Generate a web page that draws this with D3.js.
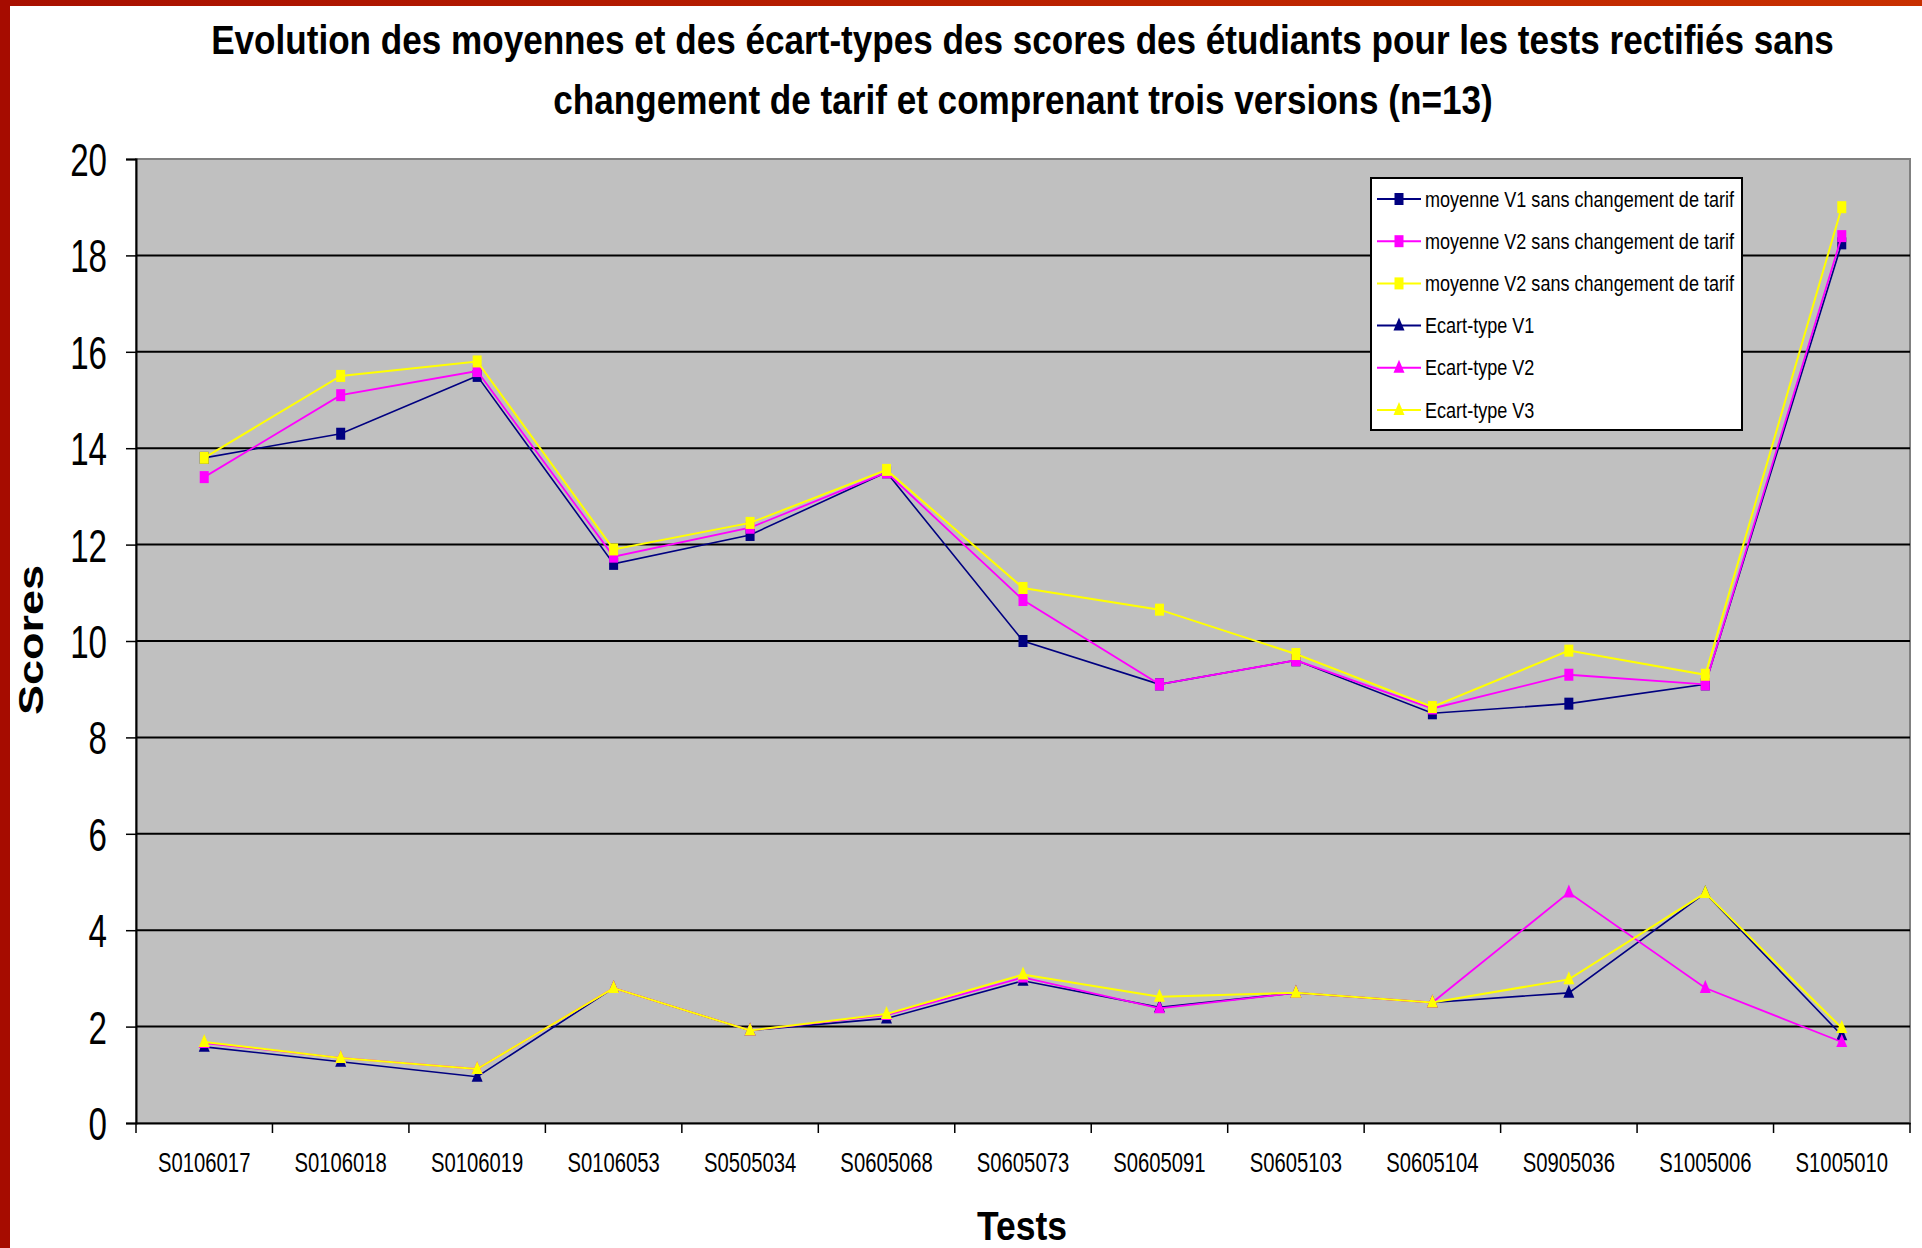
<!DOCTYPE html>
<html><head><meta charset="utf-8">
<script src="https://cdn.jsdelivr.net/npm/d3@7"></script>
<style>html,body{margin:0;padding:0;background:#fff;overflow:hidden}svg{display:block}</style>
</head><body>
<svg id="chart" width="1922" height="1248"></svg>
<script>
const categories = ["S0106017","S0106018","S0106019","S0106053","S0505034","S0605068","S0605073","S0605091","S0605103","S0605104","S0905036","S1005006","S1005010"];
const meanV1 = [13.8, 14.3, 15.5, 11.6, 12.2, 13.5, 10.0, 9.1, 9.6, 8.5, 8.7, 9.1, 18.25];
const meanV2 = [13.4, 15.1, 15.6, 11.75, 12.35, 13.5, 10.85, 9.1, 9.6, 8.6, 9.3, 9.1, 18.4];
const meanV3 = [13.8, 15.5, 15.8, 11.9, 12.45, 13.55, 11.1, 10.65, 9.73, 8.63, 9.8, 9.3, 19.0];
const sdV1 = [1.58, 1.27, 0.96, 2.8, 1.92, 2.17, 2.95, 2.4, 2.7, 2.5, 2.7, 4.77, 1.82];
const sdV2 = [1.66, 1.35, 1.12, 2.8, 1.92, 2.24, 3.02, 2.38, 2.7, 2.5, 4.78, 2.8, 1.68];
const sdV3 = [1.68, 1.35, 1.12, 2.8, 1.92, 2.26, 3.08, 2.62, 2.7, 2.5, 2.98, 4.77, 1.97];
const seriesNames = ["moyenne V1 sans changement de tarif","moyenne V2 sans changement de tarif","moyenne V2 sans changement de tarif","Ecart-type V1","Ecart-type V2","Ecart-type V3"];
const yTicks = [0,2,4,6,8,10,12,14,16,18,20];
const titleLines = ["Evolution des moyennes et des écart-types des scores des étudiants pour les tests rectifiés sans","changement de tarif et comprenant trois versions (n=13)"];
const yTitle = "Scores";
const xTitle = "Tests";

const series = [
  {name: seriesNames[0], values: meanV1, color: "#000080", shape: "square", w: 1.6},
  {name: seriesNames[1], values: meanV2, color: "#ff00ff", shape: "square", w: 1.8},
  {name: seriesNames[2], values: meanV3, color: "#ffff00", shape: "square", w: 2},
  {name: seriesNames[3], values: sdV1, color: "#000080", shape: "triangle", w: 1.6},
  {name: seriesNames[4], values: sdV2, color: "#ff00ff", shape: "triangle", w: 1.8},
  {name: seriesNames[5], values: sdV3, color: "#ffff00", shape: "triangle", w: 2}
];

const svg = d3.select("#chart");
const font = "'Liberation Sans', Arial, sans-serif";
const L = 136, R = 1910, T = 159, B = 1123;

// frame decoration
const defs = svg.append("defs");
const g1 = defs.append("linearGradient").attr("id","topband").attr("x1","0").attr("x2","1");
g1.append("stop").attr("offset","0").attr("stop-color","#a81000");
g1.append("stop").attr("offset","1").attr("stop-color","#c83000");
svg.append("rect").attr("x",0).attr("y",0).attr("width",1922).attr("height",6).attr("fill","url(#topband)");
svg.append("rect").attr("x",0).attr("y",0).attr("width",10).attr("height",1248).attr("fill","#a60c00");

const x = d3.scaleBand().domain(categories).range([L, R]).padding(0);
const y = d3.scaleLinear().domain([0, 20]).range([B, T]);
const cx = d => x(d) + x.bandwidth() / 2;

// plot area
svg.append("rect").attr("x", L).attr("y", T).attr("width", R - L).attr("height", B - T)
  .attr("fill", "#c0c0c0").attr("stroke", "#808080").attr("stroke-width", 2);

// gridlines
svg.append("g").selectAll("line").data(yTicks.filter(t => t > 0 && t < 20)).join("line")
  .attr("x1", L).attr("x2", R).attr("y1", d => y(d)).attr("y2", d => y(d))
  .attr("stroke", "#000").attr("stroke-width", 2);

// y axis
const yAxis = svg.append("g").attr("transform", `translate(${L},0)`)
  .call(d3.axisLeft(y).tickValues(yTicks).tickSize(10).tickFormat(d3.format("d")));
yAxis.select(".domain").attr("stroke", "#000").attr("stroke-width", 2);
yAxis.selectAll(".tick line").attr("stroke", "#000").attr("stroke-width", 1.5);
yAxis.selectAll(".tick text").attr("x", 0).attr("dy", "0.36em")
  .attr("transform", "translate(-29,0) scale(0.72,1)")
  .attr("font-family", font).attr("font-size", 46).attr("fill", "#000").attr("text-anchor", "end");

// x axis
const xAxis = svg.append("g").attr("transform", `translate(0,${B})`)
  .call(d3.axisBottom(x).tickSize(0).tickFormat(d => d));
xAxis.select(".domain").attr("stroke", "#000").attr("stroke-width", 2);
xAxis.selectAll(".tick text").attr("y", 0).attr("dy", 0)
  .attr("transform", "translate(0,49) scale(0.75,1)")
  .attr("font-family", font).attr("font-size", 27).attr("fill", "#000");
const edges = categories.map(c => x(c)).concat([R]);
svg.append("g").selectAll("line").data(edges).join("line")
  .attr("x1", d => d).attr("x2", d => d).attr("y1", B).attr("y2", B + 10)
  .attr("stroke", "#000").attr("stroke-width", 1.5);

// lines and markers
const line = d3.line().x((d, i) => cx(categories[i])).y(d => y(d));
function marker(sel, s, px, py) {
  if (s.shape === "square") {
    sel.append("rect").attr("x", px - 4.5).attr("y", py - 6).attr("width", 9).attr("height", 12).attr("fill", s.color);
  } else {
    sel.append("path").attr("d", `M${px},${py - 8} L${px + 5.5},${py + 5} L${px - 5.5},${py + 5} Z`).attr("fill", s.color);
  }
}
series.forEach(s => {
  const g = svg.append("g");
  g.append("path").attr("d", line(s.values)).attr("fill", "none").attr("stroke", s.color).attr("stroke-width", s.w);
  s.values.forEach((v, i) => marker(g, s, cx(categories[i]), y(v)));
});

// legend
const lg = svg.append("g");
lg.append("rect").attr("x", 1371).attr("y", 178).attr("width", 371).attr("height", 252)
  .attr("fill", "#fff").attr("stroke", "#000").attr("stroke-width", 2);
series.forEach((s, i) => {
  const yy = 199 + i * 42.2;
  lg.append("line").attr("x1", 1377).attr("x2", 1421).attr("y1", yy).attr("y2", yy).attr("stroke", s.color).attr("stroke-width", 2);
  marker(lg, s, 1399, yy);
  lg.append("text").attr("x", 0).attr("y", 0).attr("transform", `translate(1425,${yy + 7.5}) scale(0.84,1)`)
    .attr("font-family", font).attr("font-size", 21.5).attr("fill", "#000").text(s.name);
});

// titles: condensed horizontally to the reference widths
function condensed(txt, cxp, base, size, target, rotate) {
  const t = svg.append("text").attr("x", 0).attr("y", 0).attr("text-anchor", "middle")
    .attr("font-family", font).attr("font-weight", "bold").attr("font-size", size).text(txt);
  const w = t.node().getComputedTextLength();
  const k = target / w;
  t.attr("transform", `translate(${cxp},${base})${rotate ? " rotate(-90)" : ""} scale(${k},1)`);
}
condensed(titleLines[0], 1022.5, 54, 41, 1623, false);
condensed(titleLines[1], 1023, 114, 41, 940, false);
condensed(yTitle, 43, 640, 35, 150, true);
condensed(xTitle, 1022, 1240, 40, 90, false);
</script>
</body></html>
